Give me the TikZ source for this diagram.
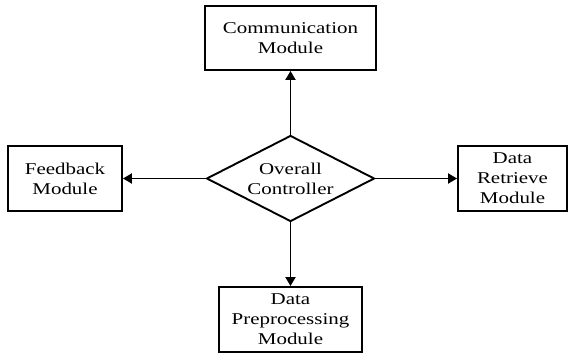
\documentclass[tikz,border=0pt]{standalone}
\usepackage{fontspec}
\setmainfont{Liberation Serif}[FakeStretch=1.27]
\usetikzlibrary{shapes.geometric,arrows.meta}
\begin{document}
\begin{tikzpicture}[x=1pt,y=-1pt,
  box/.style={draw,line width=1.9pt,inner sep=0pt,align=center,font=\fontsize{16.5}{20}\selectfont},
  ctrl/.style={draw,diamond,aspect=1.95,line width=1.9pt,inner sep=0pt,align=center,minimum width=168pt,minimum height=86pt,font=\fontsize{16.5}{20}\selectfont},
  arr/.style={line width=1.9pt,-{Triangle[length=9pt,width=10pt]}}]
\useasboundingbox (0,0) rectangle (569,356);
\node[box,minimum width=171pt,minimum height=64pt] (comm) at (290.5,38) {Communication\\Module};
\node[box,minimum width=114pt,minimum height=65pt] (feed) at (65,178.5) {Feedback\\Module};
\node[box,minimum width=109pt,minimum height=65pt] (retr) at (512.5,178.5) {Data\\Retrieve\\Module};
\node[box,minimum width=143pt,minimum height=65pt] (prep) at (290.5,319.5) {Data\\Preprocessing\\Module};
\node[ctrl] (ctl) at (290.5,178.5) {Overall\\Controller};
\draw[arr] (ctl.north) -- (comm.south);
\draw[arr] (ctl.west) -- (feed.east);
\draw[arr] (ctl.east) -- (retr.west);
\draw[arr] (ctl.south) -- (prep.north);
\end{tikzpicture}
\end{document}
